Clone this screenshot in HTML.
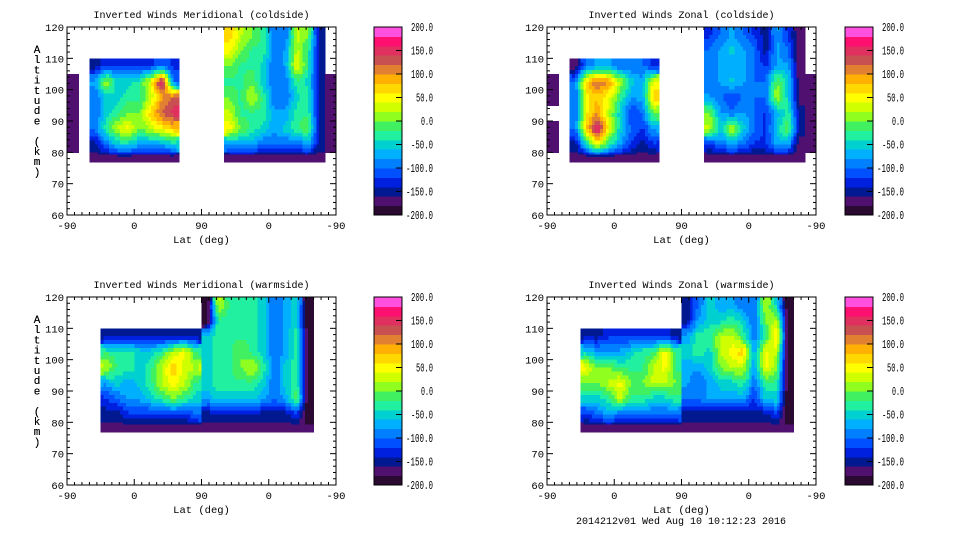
<!DOCTYPE html>
<html><head><meta charset="utf-8"><style>
html,body{margin:0;padding:0;background:#fff;}
svg{display:block;font-family:"Liberation Mono",monospace;}
</style></head><body>
<svg id="root" width="960" height="540" viewBox="0 0 960 540"></svg>
<script>
const NS='http://www.w3.org/2000/svg';
const xTickLabels=['-90','0','90','0','-90'];
const xTickValues=[0,90,180,270,360];
const yTickLabels=['60','70','80','90','100','110','120'];
const yTickValues=[60,70,80,90,100,110,120];
const cbLabels=['200.0','150.0','100.0','50.0','0.0','-50.0','-100.0','-150.0','-200.0'];
const cbValues=[200,150,100,50,0,-50,-100,-150,-200];
const altTop=[120,115,110,105,100,95,90,85,80];
const altBottom=[115,110,105,100,95,90,85,80,77];
const colWidth=15;
const bandColors=['#2a0a30','#501070','#001890','#0020e0','#0050ff','#0080ff','#00b0ff','#00d0d0','#20f0a0','#40f060','#90ff20','#d0ff00','#ffff00','#ffd800','#ffb000','#e08030','#c85050','#e03060','#ff1070','#ff50e0'];
const n=null;
const p1Left=[[n,n,n,n,n,n,n,n],[n,n,n,n,n,n,n,n],[-150,-125,-125,-125,-125,-125,-100,-125],[-75,25,-50,-50,-25,50,175,-100],[-100,-50,-50,-25,-25,25,100,125],[-100,-50,-25,0,0,75,125,150],[-100,-25,25,50,0,25,50,75],[-150,-100,-50,-50,-75,-75,-75,-50],[-175,-175,-175,-175,-175,-175,-175,-175]];
const p1Right=[[75,25,0,-25,-100,-100,25,0,-150],[50,0,-25,-25,-100,-75,25,-25,-150],[0,-25,-25,-50,-100,-75,50,-25,-150],[-25,-25,0,-50,-100,-100,-25,-50,-150],[0,-25,25,-25,-100,-100,-50,-25,-150],[25,-25,-25,-25,-75,-75,-25,-25,-150],[50,0,-25,-50,-75,-50,-25,0,-150],[-75,-75,-75,-100,-100,-100,-100,-75,-150],[-175,-175,-175,-175,-175,-175,-175,-175,-175]];
const p1Edge=[n,n,n,-175,-175,-175,-175,-175,n];
const p1EdgeR=[n,n,n,-175,-175,-175,-175,-175,n];
const p2Left=[[n,n,n,n,n,n,n,n],[n,n,n,n,n,n,n,n],[-175,-100,-75,-75,-100,-100,-100,-125],[-100,75,125,100,25,-50,-75,50],[-100,50,75,50,-25,-75,-75,75],[-100,50,100,25,-50,-125,-100,0],[-100,75,175,50,-50,-100,-125,-75],[-150,-50,50,-25,-75,-125,-150,-125],[-175,-175,-175,-175,-175,-175,-175,-175]];
const p2Right=[[-125,-100,-75,-100,-125,-150,-75,-125,-175],[-100,-75,-50,-75,-100,-150,-75,-100,-175],[-100,-75,-75,-75,-100,-125,-75,-75,-175],[-100,-75,-50,-75,-100,-100,0,-50,-175],[-75,-100,-125,-100,-100,-100,25,-50,-175],[0,-75,-100,-75,-100,-125,-75,-25,-150],[25,-50,25,-50,-100,-125,-50,0,-150],[-125,-100,-75,-100,-125,-125,-75,-75,-175],[-175,-175,-175,-175,-175,-175,-175,-175,-175]];
const p2Edge=[n,n,n,-175,-175,n,-175,-175,n];
const p2EdgeR=[n,n,n,-175,-175,-175,-175,-175,n];
const p3Left=[[n,n,n,n,n,n,n,n,n],[n,n,n,n,n,n,n,n,n],[-150,-150,-150,-150,-150,-150,-150,-150,-150],[-25,-25,-25,-50,-50,-25,25,50,-25],[25,-25,-25,-50,-25,25,75,25,25],[-75,-50,-75,-50,-25,25,50,25,-25],[-125,-100,-75,-75,-50,-25,0,-25,-50],[-150,-150,-125,-125,-125,-125,-125,-125,-100],[-175,-175,-175,-175,-175,-175,-175,-175,-175]];
const p3Right=[[-200,25,-25,-25,-25,-50,-100,-75,-50,-200],[-200,-25,-25,-25,-25,-50,-100,-75,-50,-200],[-50,-25,-25,-25,-25,-50,-100,-75,-25,-200],[-50,-25,-25,0,-25,-50,-100,-75,-25,-200],[-50,-25,-25,0,25,-25,-100,-50,-25,-200],[-50,-25,-25,-25,-25,-50,-100,-50,-25,-200],[-75,-50,-50,-50,-50,-75,-100,-75,0,-200],[-150,-150,-150,-150,-150,-150,-150,-150,-125,-200],[-175,-175,-175,-175,-175,-175,-175,-175,-175,-175]];
const p4Left=[[n,n,n,n,n,n,n,n,n],[n,n,n,n,n,n,n,n,n],[-150,-150,-125,-125,-125,-125,-125,-125,-150],[-50,-75,-75,-75,-50,-25,-25,50,-25],[50,0,0,-25,-25,-25,25,50,-25],[0,0,25,50,0,0,25,25,0],[-50,-50,-25,25,-25,-25,-50,-50,-25],[-125,-100,-75,-100,-100,-100,-100,-100,-100],[-175,-175,-175,-175,-175,-175,-175,-175,-175]];
const p4Right=[[-150,-100,-50,-75,-75,-100,-100,25,-50,-200],[-150,-75,-50,-50,-25,-50,-100,0,25,-200],[-75,-25,-25,25,25,-25,-100,-25,75,-200],[-50,-25,-50,25,50,75,-75,50,25,-200],[-75,-75,-50,0,25,25,-75,50,0,-200],[-75,-100,-75,-50,-50,-25,-100,-25,-25,-200],[-100,-100,-75,-75,-75,-75,-125,-50,-50,-200],[-150,-150,-150,-150,-150,-150,-150,-150,-125,-200],[-175,-175,-175,-175,-175,-175,-175,-175,-175,-175]];

const panels=[
 {name:'meridional-coldside',title:'Inverted Winds Meridional (coldside)',x0:67,x1:336,y0:27,y1:215,cb:374,blocks:[[p1Left,2],[p1Right,14],[p1Edge.map(v=>[v]),0],[p1EdgeR.map(v=>[v]),23]]},
 {name:'zonal-coldside',title:'Inverted Winds Zonal (coldside)',x0:547,x1:816,y0:27,y1:215,cb:845,blocks:[[p2Left,2],[p2Right,14],[p2Edge.map(v=>[v]),0],[p2EdgeR.map(v=>[v]),23]]},
 {name:'meridional-warmside',title:'Inverted Winds Meridional (warmside)',x0:67,x1:336,y0:297,y1:485,cb:374,blocks:[[p3Left,3],[p3Right,12]]},
 {name:'zonal-warmside',title:'Inverted Winds Zonal (warmside)',x0:547,x1:816,y0:297,y1:485,cb:845,blocks:[[p4Left,3],[p4Right,12]]}
];
const root=document.getElementById('root');
function mk(tag,attrs,parent){const e=document.createElementNS(NS,tag);for(const k in attrs)e.setAttribute(k,attrs[k]);parent.appendChild(e);return e;}
function color(v){let i=Math.floor((v+200)/20);if(i<0)i=0;if(i>19)i=19;return bandColors[i];}
function getv(grid,r,c,fb){if(r<0||r>=grid.length||c<0||c>=grid[0].length)return fb;const v=grid[r][c];return v===null?fb:v;}
const SUB=4;
panels.forEach(p=>{
 const g=mk('g',{},root);
 
 
 const xs=u=>p.x0+(u/360)*(p.x1-p.x0);
 const ys=a=>p.y1-(a-60)/60*(p.y1-p.y0);
 const t=mk('text',{x:(p.x0+p.x1)/2,y:p.y0-9,'text-anchor':'middle','font-size':'10'},g);t.textContent=p.title;
 
 
 const cells=mk('g',{'shape-rendering':'crispEdges'},g);
 
 
 p.blocks.forEach(([grid,c0])=>{
  grid.forEach((row,r)=>{row.forEach((v,c)=>{if(v===null)return;
   const u0=(c0+c)*colWidth;
   for(let si=0;si<SUB;si++)for(let sj=0;sj<SUB;sj++){
    const fx=(sj+0.5)/SUB-0.5, fy=(si+0.5)/SUB-0.5;
    const dc=fx<0?-1:1, dr=fy<0?-1:1;
    const ax=Math.abs(fx), ay=Math.abs(fy);
    const vx=getv(grid,r,c+dc,v), vy=getv(grid,r+dr,c,v), vxy=getv(grid,r+dr,c+dc,v);
    const val=v*(1-ax)*(1-ay)+vx*ax*(1-ay)+vy*(1-ax)*ay+vxy*ax*ay;
    const ua=u0+colWidth*sj/SUB, ub=u0+colWidth*(sj+1)/SUB;
    const at=altTop[r]-(altTop[r]-altBottom[r])*si/SUB, ab=altTop[r]-(altTop[r]-altBottom[r])*(si+1)/SUB;
    const rc=mk('rect',{x:xs(ua),y:ys(at),width:xs(ub)-xs(ua)+0.6,height:ys(ab)-ys(at)+0.6,fill:color(val)},cells);
    
    
   }
  });});
 });
 const fr=mk('rect',{x:p.x0,y:p.y0,width:p.x1-p.x0,height:p.y1-p.y0,fill:'none',stroke:'#000','stroke-width':1},g);
 
 
 for(let a=60;a<=120;a+=2){const L=(a%10===0)?6:3;
  mk('line',{x1:p.x0,x2:p.x0+L,y1:ys(a),y2:ys(a),stroke:'#000'},g);
  mk('line',{x1:p.x1,x2:p.x1-L,y1:ys(a),y2:ys(a),stroke:'#000'},g);}
 for(let u=0;u<=360;u+=10){const L=(u%90===0)?6:3;
  mk('line',{x1:xs(u),x2:xs(u),y1:p.y1,y2:p.y1-L,stroke:'#000'},g);
  mk('line',{x1:xs(u),x2:xs(u),y1:p.y0,y2:p.y0+L,stroke:'#000'},g);}
 yTickValues.forEach((a,i)=>{const e=mk('text',{x:p.x0-3,y:ys(a)+4,'text-anchor':'end','font-size':'10.5'},g);e.textContent=yTickLabels[i];
  
  });
 xTickValues.forEach((u,i)=>{const e=mk('text',{x:xs(u),y:p.y1+14,'text-anchor':'middle','font-size':'10.5'},g);e.textContent=xTickLabels[i];
  
  });
 const xt=mk('text',{x:(p.x0+p.x1)/2,y:p.y1+28,'text-anchor':'middle','font-size':'10.5'},g);xt.textContent='Lat (deg)';
 
 
 const yt=mk('g',{},g);
 
 
 'Altitude (km)'.split('').forEach((ch,i)=>{const e=mk('text',{x:37,y:p.y0+26+i*10.2,'text-anchor':'middle','font-size':'11'},yt);e.textContent=ch;});
 const cb=mk('g',{'shape-rendering':'crispEdges'},g);
 
 
 const cs=v=>p.y1-(v+200)/400*(p.y1-p.y0);
 bandColors.forEach((col,i)=>{const v=-200+i*20;
  mk('rect',{x:p.cb,y:cs(v+20),width:28,height:cs(v)-cs(v+20)+0.5,fill:col},cb);});
 mk('rect',{x:p.cb,y:p.y0,width:28,height:p.y1-p.y0,fill:'none',stroke:'#000'},cb);
 cbValues.forEach((v,i)=>{
  mk('line',{x1:p.cb+28,x2:p.cb+22,y1:cs(v),y2:cs(v),stroke:'#000'},cb);
  const s=cbLabels[i];
  const len=(s.length-1)*5+2;
  const e=mk('text',{x:p.cb+59,y:cs(v)+4,'text-anchor':'end','font-size':'11.5',textLength:len,lengthAdjust:'spacingAndGlyphs'},g);e.textContent=s;
  
  });
});
const ft=mk('text',{x:681,y:524,'text-anchor':'middle','font-size':'10'},root);
ft.textContent='2014212v01 Wed Aug 10 10:12:23 2016';


</script>
</body></html>
